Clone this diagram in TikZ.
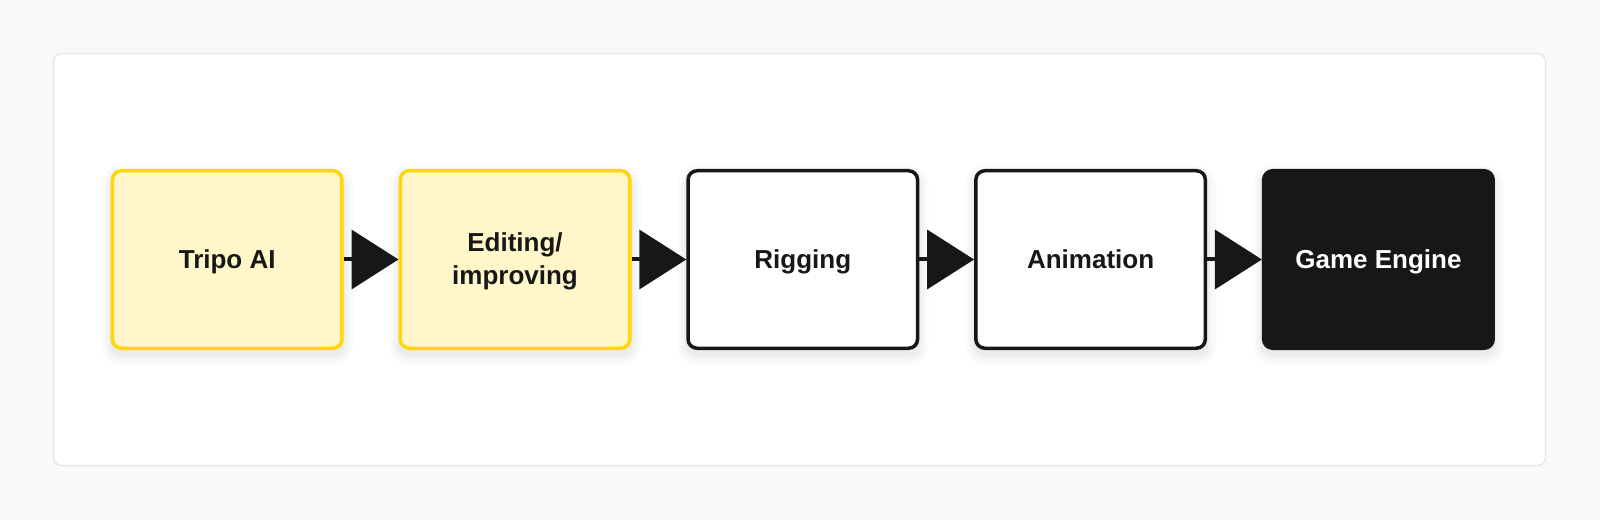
\documentclass[tikz,border=0pt]{standalone}
\usepackage{fontspec}
\setmainfont{Liberation Sans}
\usetikzlibrary{arrows.meta}
\definecolor{pagebg}{HTML}{F9F9F7}
\definecolor{cardborder}{HTML}{E4E4E0}
\definecolor{ink}{HTML}{171717}
\definecolor{yfill}{HTML}{FFF7C9}
\definecolor{ydraw}{HTML}{FFD60A}
\tikzset{
  softshadow/.style={
    preaction={draw=black, draw opacity=0.018, line width=22pt, transform canvas={yshift=-6pt}},
    preaction={draw=black, draw opacity=0.022, line width=14pt, transform canvas={yshift=-6pt}},
    preaction={draw=black, draw opacity=0.03, line width=7pt, transform canvas={yshift=-5pt}}},
  stage/.style={rectangle, rounded corners=9pt, line width=3.5pt,
    minimum width=229.5pt, minimum height=177.5pt, align=center,
    font=\bfseries\fontsize{26}{33}\selectfont, text=ink, softshadow},
  oneline/.style={text height=23.5pt, text depth=5.5pt},
  ystage/.style={stage, fill=yfill, draw=ydraw},
  wstage/.style={stage, fill=white, draw=ink},
  bstage/.style={stage, fill=ink, draw=ink, text=white},
  flow/.style={draw=ink, line width=4pt, -{Triangle[length=47pt,width=59pt]}}
}
\begin{document}
\begin{tikzpicture}[x=1pt,y=1pt]
\useasboundingbox (0,0) rectangle (1600,520);
\fill[pagebg] (0,0) rectangle (1600,520);
\draw[cardborder, fill=white, line width=1.3pt, rounded corners=8pt] (53.5,54.5) rectangle (1545.5,466.5);
\node[ystage, oneline] (tripo) at (227.2,260.5) {Tripo AI};
\node[ystage] (edit) at (515,260.5) {\rule{0pt}{22.5pt}Editing/\\improving\rule[-5.5pt]{0pt}{5.5pt}};
\node[wstage, oneline] (rig) at (802.8,260.5) {Rigging};
\node[wstage, oneline] (anim) at (1090.6,260.5) {Animation};
\node[bstage, oneline] (engine) at (1378.4,260.5) {Game Engine};
\draw[flow] (tripo) -- (edit);
\draw[flow] (edit) -- (rig);
\draw[flow] (rig) -- (anim);
\draw[flow] (anim) -- (engine);
\end{tikzpicture}
\end{document}
